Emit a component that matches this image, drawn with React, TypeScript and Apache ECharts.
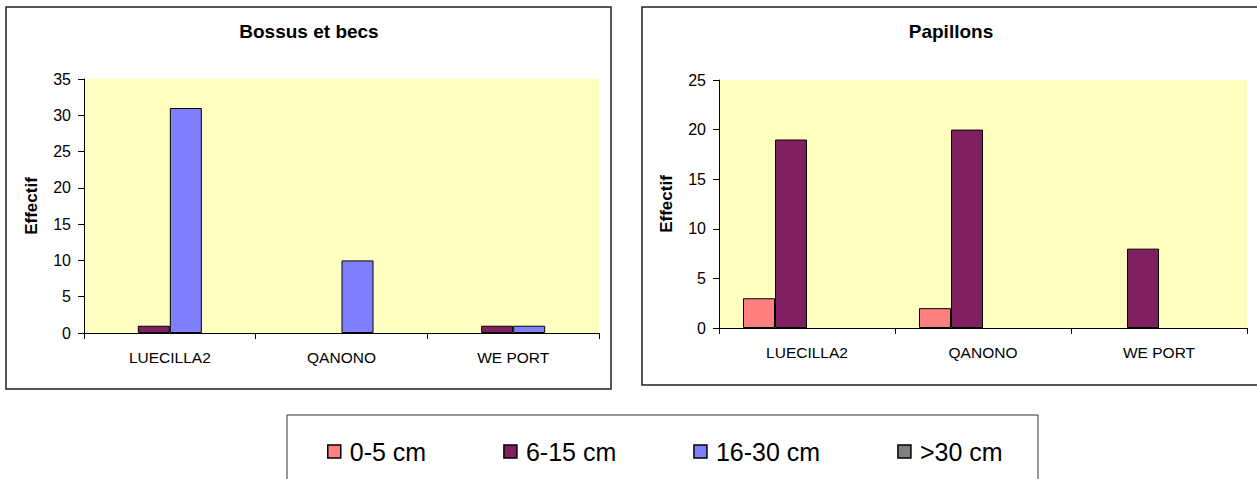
import React, { useEffect, useRef } from "react";
import * as echarts from "echarts";

const categories = ["LUECILLA2", "QANONO", "WE PORT"];
const sizeClasses = ["0-5 cm", "6-15 cm", "16-30 cm", ">30 cm"];
const classColors = ["#FF8080", "#802060", "#8080FF", "#808080"];

// Bossus et becs
const bossus0to5 = [null, null, null];
const bossus6to15 = [1, null, 1];
const bossus16to30 = [31, 10, 1];
const bossusOver30 = [null, null, null];

// Papillons
const papillons0to5 = [3, 2, null];
const papillons6to15 = [19, 20, 8];
const papillons16to30 = [null, null, null];
const papillonsOver30 = [null, null, null];

const bossusTicks = { min: 0, max: 35, interval: 5 };
const papillonsTicks = { min: 0, max: 25, interval: 5 };

const FONT = "'Liberation Sans', Arial, sans-serif";

export default function App() {
  const ref = useRef<HTMLDivElement>(null);

  useEffect(() => {
    if (!ref.current) return;
    const chart = echarts.init(ref.current, undefined, { renderer: "svg" });

    const bossusData = [bossus0to5, bossus6to15, bossus16to30, bossusOver30];
    const papillonsData = [papillons0to5, papillons6to15, papillons16to30, papillonsOver30];

    const mkSeries = (data: (number | null)[][], idx: number) =>
      data.map((d, i) => ({
        type: "bar",
        name: sizeClasses[i],
        xAxisIndex: idx,
        yAxisIndex: idx,
        data: d,
        barWidth: 32,
        barGap: "0%",
        itemStyle: { color: classColors[i], borderColor: "#000", borderWidth: 1 },
      }));

    const mkX = (gridIndex: number) => ({
      type: "category",
      gridIndex,
      data: categories,
      axisLine: { lineStyle: { color: "#000", width: 1 } },
      axisTick: { show: true, length: 6, lineStyle: { color: "#000" } },
      axisLabel: { color: "#000", fontSize: 15.5, fontFamily: FONT, margin: 16 },
    });

    const mkY = (gridIndex: number, t: { min: number; max: number; interval: number }) => ({
      type: "value",
      gridIndex,
      min: t.min,
      max: t.max,
      interval: t.interval,
      name: "Effectif",
      nameLocation: "middle",
      nameRotate: 90,
      nameGap: 44,
      nameTextStyle: { color: "#000", fontSize: 17, fontWeight: "bold", fontFamily: FONT },
      axisLine: { show: true, lineStyle: { color: "#000", width: 1 } },
      axisTick: { show: true, length: 6, lineStyle: { color: "#000" } },
      axisLabel: { color: "#000", fontSize: 16, fontFamily: FONT, margin: 13 },
      splitLine: { show: false },
    });

    chart.setOption({
      animation: false,
      backgroundColor: "#fff",
      grid: [
        { left: 84, top: 79, width: 515, height: 254, show: true, backgroundColor: "#FFFFC0", borderWidth: 0 },
        { left: 719, top: 80, width: 528, height: 248, show: true, backgroundColor: "#FFFFC0", borderWidth: 0 },
      ],
      xAxis: [mkX(0), mkX(1)],
      yAxis: [mkY(0, bossusTicks), mkY(1, papillonsTicks)],
      legend: {
        data: sizeClasses,
        left: 322,
        top: 434,
        orient: "horizontal",
        itemWidth: 13,
        itemHeight: 13,
        itemGap: 77,
        icon: "rect",
        itemStyle: { borderColor: "#000", borderWidth: 1.5 },
        textStyle: { color: "#000", fontSize: 25, fontFamily: FONT, padding: [0, 0, 0, 4] },
        selectedMode: false,
      },
      graphic: [
        {
          type: "rect",
          shape: { x: 6, y: 7, width: 605, height: 382 },
          style: { fill: "none", stroke: "#222", lineWidth: 1.5 },
          z: -1,
        },
        {
          type: "rect",
          shape: { x: 642, y: 7, width: 620, height: 378 },
          style: { fill: "none", stroke: "#222", lineWidth: 1.5 },
          z: -1,
        },
        {
          type: "rect",
          shape: { x: 287, y: 415, width: 751, height: 80 },
          style: { fill: "none", stroke: "#333", lineWidth: 1 },
          z: -1,
        },
        {
          type: "text",
          x: 309,
          y: 31,
          style: {
            text: "Bossus et becs",
            textAlign: "center",
            textVerticalAlign: "middle",
            fontSize: 19,
            fontWeight: "bold",
            fontFamily: FONT,
            fill: "#000",
          },
        },
        {
          type: "text",
          x: 951,
          y: 31,
          style: {
            text: "Papillons",
            textAlign: "center",
            textVerticalAlign: "middle",
            fontSize: 19,
            fontWeight: "bold",
            fontFamily: FONT,
            fill: "#000",
          },
        },
      ],
      series: [...mkSeries(bossusData, 0), ...mkSeries(papillonsData, 1)],
    });

    return () => chart.dispose();
  }, []);

  return (
    <div
      ref={ref}
      style={{ position: "absolute", left: 0, top: 0, width: 1257, height: 479 }}
    />
  );
}
